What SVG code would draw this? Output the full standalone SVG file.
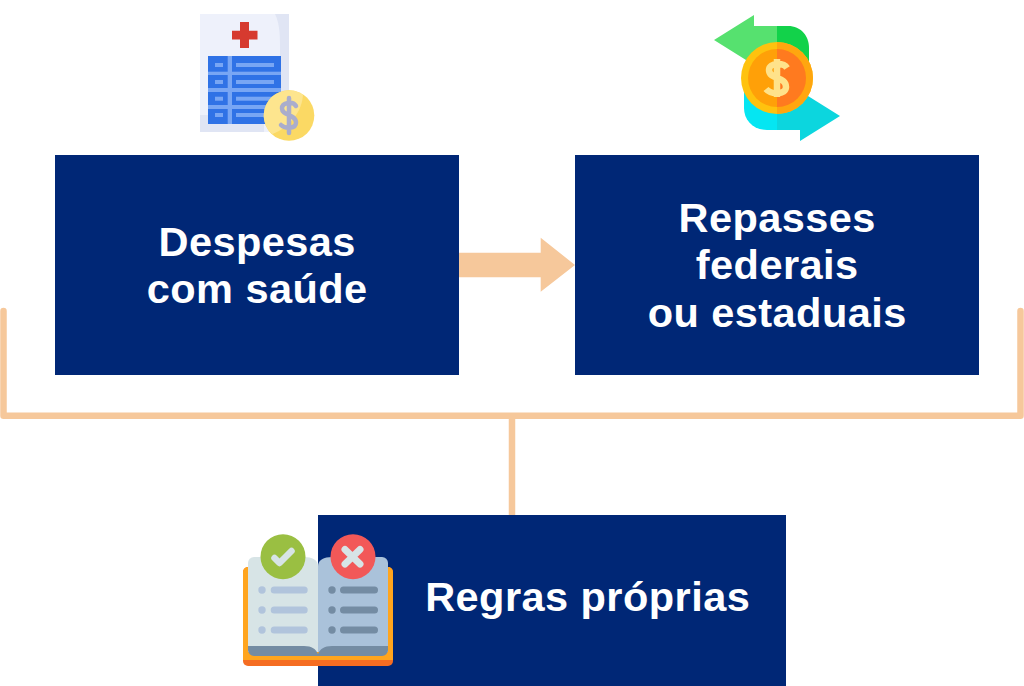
<svg xmlns="http://www.w3.org/2000/svg" width="1024" height="686" viewBox="0 0 1024 686">
<style>
.box{fill:#002776}
.lbl{font-family:"Liberation Sans",Arial,sans-serif;font-weight:700;font-size:41.500px;letter-spacing:0.450px;fill:#fff;text-anchor:middle}
.conn{fill:none;stroke:#f6c89b;stroke-width:6.500;stroke-linecap:round;stroke-linejoin:round}
.bullet1{fill:#b1c4dc}
.bullet2{fill:#748ca3}
</style>
<rect width="1024" height="686" fill="#fff"/>
<g id="connectors">
<path class="conn" d="M3.500 311V415.800H1020.500V311"/>
<path class="conn" d="M512 416V515" style="stroke-linecap:butt"/>
<path d="M459 252.700H540.700V237.700L575 265L540.700 291.700V277.300H459Z" fill="#f6c89b"/>
</g>
<g id="node-despesas">
<rect class="box" x="55" y="155" width="404" height="220"/>
<text class="lbl" x="257.200" y="256">Despesas</text>
<text class="lbl" x="257.200" y="303">com saúde</text>
<g id="icon-bill">
<path d="M200 14H289V132H200Z" fill="#eef1fb"/>
<path d="M275 14H289V100H280V45C280 32 279 22 275 14Z" fill="#e0e5f4"/>
<path d="M200 115H264V132H200Z" fill="#e0e5f4"/>
<path d="M240 22H249V30.700H257.500V39.500H249V48H240V39.500H232V30.700H240Z" fill="#d63a2f"/>
<rect x="208" y="56" width="73" height="68" fill="#78a6f4"/>
<g fill="#2f72e6">
<rect x="208" y="56" width="19.700" height="15.700"/><rect x="232" y="56" width="49" height="15.700"/>
<rect x="208" y="75" width="19.700" height="13"/><rect x="232" y="75" width="49" height="13"/>
<rect x="208" y="92" width="19.700" height="13"/><rect x="232" y="92" width="49" height="13"/>
<rect x="208" y="109" width="19.700" height="15"/><rect x="232" y="109" width="49" height="15"/>
</g>
<g fill="#78a6f4">
<rect x="215" y="63" width="8" height="4"/><rect x="236" y="63" width="38" height="4"/>
<rect x="215" y="80" width="8" height="4"/><rect x="236" y="80" width="38" height="4"/>
<rect x="215" y="96.700" width="8" height="4"/><rect x="236" y="96.700" width="38" height="4"/>
<rect x="215" y="113" width="8" height="4"/><rect x="236" y="113" width="38" height="4"/>
</g>
<circle cx="289" cy="115.500" r="25.300" fill="#fbd964"/>
<path d="M272 134.300A25.300 25.300 0 0 1 303 94.500C302 112 290 127 272 134.300Z" fill="#fde58e"/>
<path d="M296 106C293 101 282 102 282 108.500C282 116 296 114 296 122.500C296 129 285 129 281 125M289 98V133" fill="none" stroke="#aaadcc" stroke-width="4.500" stroke-linecap="round"/>
</g>
</g>
<g id="node-repasses">
<rect class="box" x="575" y="155" width="404" height="220"/>
<text class="lbl" x="777.200" y="232">Repasses</text>
<text class="lbl" x="777.200" y="279">federais</text>
<text class="lbl" x="777.200" y="326.500">ou estaduais</text>
<g id="icon-exchange">
<path d="M714 40L754 15V26H777V70H754V65Z" fill="#56e16f"/>
<path d="M777 26H788C801 26 809 36 809 48V72H777Z" fill="#12d24a"/>
<path d="M840 116L800 141V130H777V85H800V91Z" fill="#0cd6de"/>
<path d="M777 130H767C753 130 744 120 744 108V85H777Z" fill="#05e6f2"/>
<circle cx="777" cy="78" r="36" fill="#ffc20e"/>
<path d="M777 42A36 36 0 0 1 777 114Z" fill="#ffa60f"/>
<circle cx="777" cy="78" r="29" fill="#ffa008"/>
<path d="M777 49A29 29 0 0 1 777 107Z" fill="#ff7a1f"/>
<path d="M787 68C784 63 769 62 769 70C769 80 786 76 786 87C786 95 771 95 766 89M777 59V97" fill="none" stroke="#ffe28a" stroke-width="6.500"/>
</g>
</g>
<g id="node-regras">
<rect class="box" x="318" y="515" width="468" height="171"/>
<text class="lbl" x="587.700" y="611">Regras próprias</text>
<g id="icon-book">
<rect x="243" y="567" width="150" height="99" rx="5" fill="#f56d22"/>
<path d="M243 572a5 5 0 0 1 5-5H388a5 5 0 0 1 5 5V660H243Z" fill="#ffa51e"/>
<path d="M248 650V563a6 6 0 0 1 6-6H304C312 557 318 560 318 566V652L248 652Z" fill="#d7e4e6"/>
<path d="M388 650V563a6 6 0 0 0-6-6H332C324 557 318 560 318 566V652L388 652Z" fill="#aac2da"/>
<path d="M248 646H304C312 646 316 649 318 654C320 649 324 646 332 646H388V650a6 6 0 0 1-6 6H254a6 6 0 0 1-6-6Z" fill="#748ca3"/>
<g class="bullet1">
<circle cx="262" cy="590" r="3.700"/><rect x="270.700" y="586.500" width="37" height="7" rx="3.500"/>
<circle cx="262" cy="610" r="3.700"/><rect x="270.700" y="606.500" width="37" height="7" rx="3.500"/>
<circle cx="262" cy="630" r="3.700"/><rect x="270.700" y="626.500" width="37" height="7" rx="3.500"/>
</g>
<g class="bullet2">
<circle cx="332" cy="590" r="3.700"/><rect x="340" y="586.500" width="38" height="7" rx="3.500"/>
<circle cx="332" cy="610" r="3.700"/><rect x="340" y="606.500" width="38" height="7" rx="3.500"/>
<circle cx="332" cy="630" r="3.700"/><rect x="340" y="626.500" width="38" height="7" rx="3.500"/>
</g>
<circle cx="283" cy="556.700" r="22.500" fill="#9abf42"/>
<path d="M274.500 558L279.500 563L291.500 551" fill="none" stroke="#d7e4e6" stroke-width="6.500" stroke-linecap="round" stroke-linejoin="round"/>
<circle cx="353" cy="556.700" r="22.500" fill="#f25858"/>
<path d="M345 549.500L360 564M360 549.500L345 564" fill="none" stroke="#d7e4e6" stroke-width="7" stroke-linecap="round"/>
</g>
</g>
</svg>
